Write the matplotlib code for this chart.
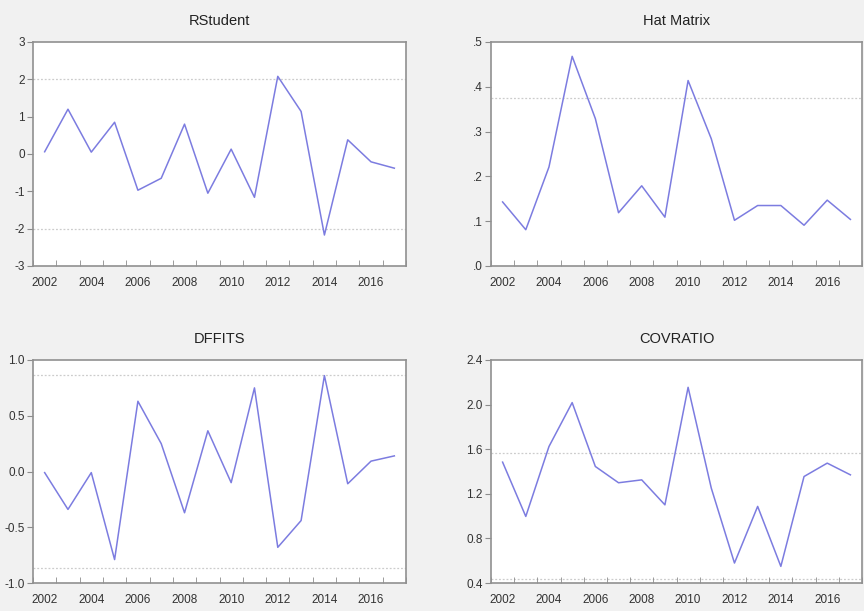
import matplotlib
matplotlib.use("Agg")
import matplotlib.pyplot as plt
import numpy as np

years = list(range(2002, 2018))
xlabels = ["2002", "2004", "2006", "2008", "2010", "2012", "2014", "2016"]

rstudent = [0.06, 1.20, 0.05, 0.85, -0.97, -0.65, 0.80, -1.05, 0.13, -1.16, 2.08, 1.14, -2.17, 0.38, -0.21, -0.38]
hat = [0.143, 0.081, 0.221, 0.468, 0.329, 0.119, 0.179, 0.109, 0.414, 0.284, 0.102, 0.135, 0.135, 0.091, 0.147, 0.104]
dffits = [-0.01, -0.34, -0.01, -0.79, 0.63, 0.25, -0.37, 0.365, -0.10, 0.75, -0.68, -0.44, 0.86, -0.11, 0.093, 0.14]
covratio = [1.484, 0.997, 1.624, 2.018, 1.445, 1.299, 1.325, 1.101, 2.155, 1.251, 0.579, 1.087, 0.549, 1.355, 1.475, 1.370]

ref_rstudent = [2.0, -2.0]
ref_hat = [0.375]
ref_dffits = [0.866, -0.866]
ref_cov = [1.5625, 0.4375]

W, H = 864, 611
fig = plt.figure(figsize=(W / 100, H / 100), dpi=100)
fig.patch.set_facecolor("#f1f1f1")
plt.rcParams["font.family"] = ["Liberation Sans", "DejaVu Sans"]

def box(x0, y0, x1, y1):
    return [x0 / W, 1 - y1 / H, (x1 - x0) / W, (y1 - y0) / H]

panels = [
    ("RStudent", rstudent, ref_rstudent, box(33, 42, 406, 266), (-3, 3), [-3, -2, -1, 0, 1, 2, 3], ["-3", "-2", "-1", "0", "1", "2", "3"]),
    ("Hat Matrix", hat, ref_hat, box(491, 42, 862, 266), (0, 0.5), [0, 0.1, 0.2, 0.3, 0.4, 0.5], [".0", ".1", ".2", ".3", ".4", ".5"]),
    ("DFFITS", dffits, ref_dffits, box(33, 360, 406, 583), (-1, 1), [-1, -0.5, 0, 0.5, 1], ["-1.0", "-0.5", "0.0", "0.5", "1.0"]),
    ("COVRATIO", covratio, ref_cov, box(491, 360, 862, 583), (0.4, 2.4), [0.4, 0.8, 1.2, 1.6, 2.0, 2.4], ["0.4", "0.8", "1.2", "1.6", "2.0", "2.4"]),
]

for title, vals, refs, rect, ylim, yt, ytl in panels:
    ax = fig.add_axes(rect)
    ax.set_facecolor("white")
    for r in refs:
        ax.axhline(r, color="#cccccc", lw=0.9, ls=(0, (1.5, 1.5)), zorder=1)
    ax.plot(years, vals, color="#7c7ce0", lw=1.1, zorder=3)
    ax.set_xlim(2001.5, 2017.5)
    ax.set_ylim(*ylim)
    ax.set_yticks(yt)
    ax.set_yticklabels(ytl, fontsize=8.5, color="#333333")
    ax.set_xticks([int(s) for s in xlabels])
    ax.set_xticklabels(xlabels, fontsize=8.5, color="#333333")
    ax.set_xticks(np.arange(2001.5, 2018.0, 1.0), minor=True)
    ax.tick_params(axis="x", which="major", length=0, pad=8)
    ax.tick_params(axis="x", which="minor", length=4, direction="in", color="#8c8c8c")
    ax.tick_params(axis="y", length=4, direction="out", color="#8c8c8c", pad=2)
    for s in ax.spines.values():
        s.set_color("#909090")
        s.set_linewidth(1.2)
    ax.set_title(title, fontsize=10.5, color="#222222", pad=12)

fig.savefig("out.png", dpi=100, facecolor=fig.get_facecolor())
